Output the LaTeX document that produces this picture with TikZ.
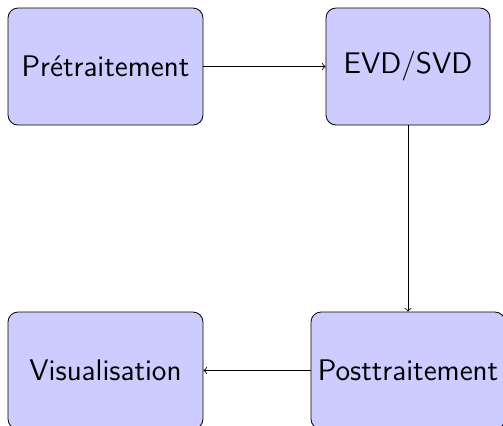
\documentclass[tikz,border=0pt]{standalone}
\begin{document}
\begin{tikzpicture}[
  stage/.style={draw, rounded corners=5pt, fill=blue!20, minimum height=58.5pt,
    font=\sffamily\fontsize{14.9}{18}\selectfont, inner sep=0pt},
  flow/.style={->, line width=0.4pt}
]
\useasboundingbox (0pt,0pt) rectangle (251.5pt,-212.5pt);
\node[stage, minimum width=97.5pt] (pre)  at (52.75pt,-33.25pt)  {Prétraitement};
\node[stage, minimum width=82pt]   (svd)  at (204pt,-33.25pt)    {EVD/SVD};
\node[stage, minimum width=97pt]   (post) at (204pt,-185.25pt)   {Posttraitement};
\node[stage, minimum width=97.5pt] (vis)  at (52.75pt,-185.25pt) {Visualisation};
\draw[flow] (pre) -- (svd);
\draw[flow] (svd) -- (post);
\draw[flow] (post) -- (vis);
\end{tikzpicture}
\end{document}
